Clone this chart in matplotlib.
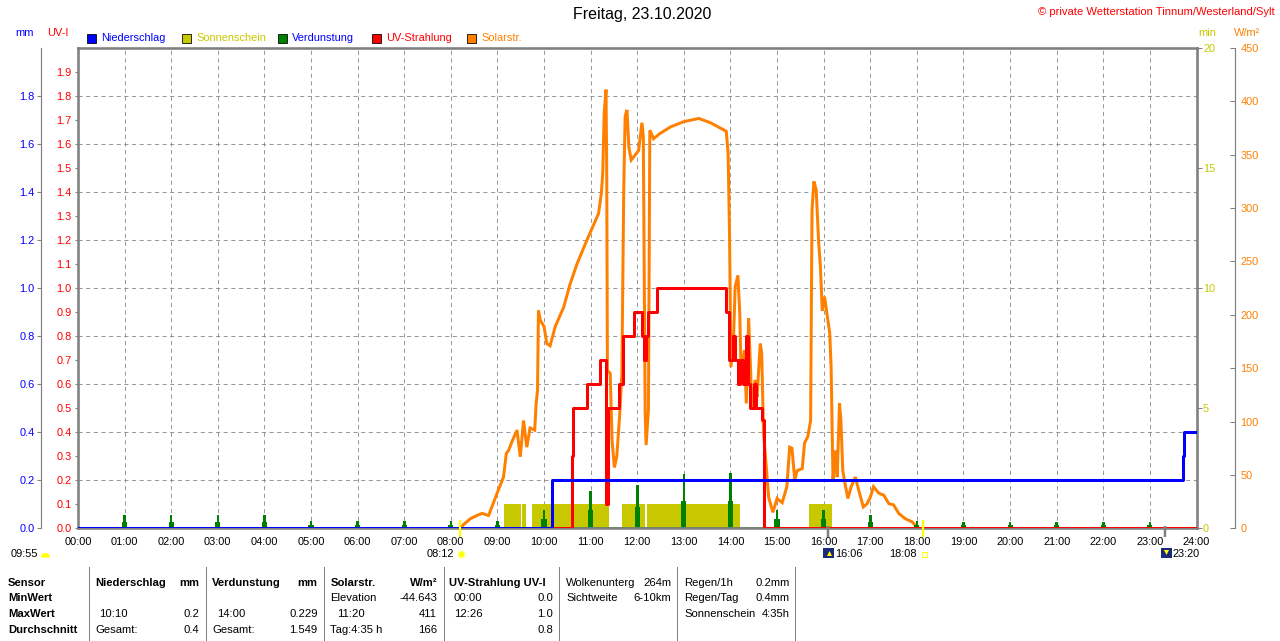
import matplotlib
matplotlib.use('Agg')
import matplotlib.pyplot as plt
from matplotlib import font_manager
from matplotlib.patches import Rectangle
import numpy as np

# ---------------- data ----------------
hours = list(range(25))
hour_labels = [f"{h:02d}:00" for h in hours]

# Niederschlag (cumulative, mm)
rain_t = [0.0, 10.17, 23.71, 23.73, 24.0]
rain_mm = [0.0, 0.2, 0.3, 0.4, 0.4]

# UV-Strahlung (UV-I), step values
uv_t = [0.0, 10.60, 10.63, 10.92, 11.19, 11.33, 11.37, 11.61, 11.69, 11.92, 12.10,
        12.14, 12.19, 12.24, 12.42, 13.91, 13.96, 14.05, 14.10, 14.16, 14.20, 14.26,
        14.33, 14.37, 14.43, 14.50, 14.55, 14.68, 14.72, 24.0]
uv_i = [0.0, 0.3, 0.5, 0.6, 0.7, 0.1, 0.5, 0.6, 0.8, 0.9, 0.8,
        0.7, 0.8, 0.9, 1.0, 0.9, 0.7, 0.8, 0.7, 0.6, 0.7, 0.6,
        0.8, 0.6, 0.5, 0.6, 0.5, 0.45, 0.0, 0.0]

# Solarstrahlung (W/m²)
solar_t = [8.22, 8.26, 8.42, 8.56, 8.67, 8.81, 8.88, 9.02, 9.13, 9.19, 9.24, 9.31, 9.42,
           9.49, 9.56, 9.63, 9.70, 9.80, 9.83, 9.86, 9.88, 9.92, 10.00, 10.06, 10.13,
           10.24, 10.42, 10.56, 10.71, 10.92, 11.06, 11.17, 11.23, 11.26, 11.29, 11.33,
           11.345, 11.36, 11.42, 11.46, 11.51, 11.56, 11.62, 11.67, 11.71, 11.74, 11.78,
           11.82, 11.87, 11.96, 12.03, 12.10, 12.13, 12.17, 12.19, 12.24, 12.27, 12.35,
           12.49, 12.71, 13.00, 13.32, 13.57, 13.78, 13.91, 13.95, 13.98, 14.01, 14.07,
           14.10, 14.16, 14.20, 14.23, 14.30, 14.34, 14.39, 14.43, 14.46, 14.53, 14.57,
           14.64, 14.67, 14.71, 14.77, 14.82, 14.91, 15.00, 15.11, 15.21, 15.27, 15.32,
           15.38, 15.43, 15.54, 15.59, 15.66, 15.72, 15.75, 15.79, 15.84, 15.89, 15.93,
           15.97, 16.02, 16.07, 16.13, 16.16, 16.20, 16.25, 16.29, 16.34, 16.37, 16.41,
           16.47, 16.52, 16.59, 16.68, 16.75, 16.85, 16.93, 17.00, 17.07, 17.18, 17.29,
           17.40, 17.50, 17.61, 17.75, 17.90, 18.00]
solar_w = [0, 3, 9, 12, 14, 12, 20, 36, 48, 70, 73, 81, 92,
           67, 101, 76, 94, 92, 117, 129, 204, 195, 189, 173, 171,
           189, 207, 229, 248, 270, 284, 295, 314, 333, 389, 411,
           333, 148, 145, 82, 57, 67, 104, 145, 317, 386, 392,
           357, 345, 350, 354, 380, 367, 108, 78, 111, 373, 365,
           370, 376, 381, 384, 380, 375, 372, 351, 276, 151, 183,
           226, 237, 201, 142, 167, 117, 197, 151, 112, 139, 123,
           173, 164, 89, 57, 29, 15, 28, 24, 39, 76, 75,
           45, 54, 56, 80, 86, 101, 298, 325, 317, 270, 245,
           204, 217, 201, 183, 151, 45, 73, 48, 117, 101, 54,
           39, 28, 39, 48, 36, 20, 23, 29, 39, 33, 31,
           23, 22, 14, 9, 6, 1]

# Sonnenschein (min)
sun_start = [9.15, 9.53, 9.75, 11.67, 12.21, 15.69]
sun_end = [9.51, 9.62, 11.40, 12.17, 14.21, 16.18]
sun_min = [1, 1, 1, 1, 1, 1]

# Verdunstung (mm per hour)
evap_t = list(range(1, 24))
evap_mm = [0.054, 0.054, 0.054, 0.054, 0.03, 0.03, 0.03, 0.03, 0.03, 0.075, 0.155,
           0.179, 0.228, 0.229, 0.078, 0.078, 0.054, 0.03, 0.026, 0.026, 0.026, 0.026, 0.026]

# Sun / moon events (hours)
sunrise, sunset = 8.2, 18.133
moonrise, moonset = 16.1, 23.333

legend_labels = ['Niederschlag', 'Sonnenschein', 'Verdunstung', 'UV-Strahlung', 'Solarstr.']

# ---------------- style ----------------
names = {f.name for f in font_manager.fontManager.ttflist}
if 'Liberation Sans Narrow' in names:
    FONT = 'Liberation Sans Narrow'
    K = 1.0
else:
    FONT = 'Liberation Sans'
    K = 0.84
plt.rcParams['font.family'] = [FONT, 'DejaVu Sans']
plt.rcParams['lines.scale_dashes'] = False

BLUE = '#0000ff'
RED = '#ff0000'
ORANGE = '#ff8000'
OLIVE = '#c8c800'
GREEN = '#008000'
GRAY = '#808080'
PX = 0.72  # points per pixel at dpi 100
TFS = 9.4 * K  # tick font size

W, H = 1280, 641
fig = plt.figure(figsize=(12.8, 6.41), dpi=100)
L, R, T, B = 78, 1196.5, 48, 528.3
rect = [L / W, 1 - B / H, (R - L) / W, (B - T) / H]

# background axes: grid + mm axis + x labels
ax_bg = fig.add_axes(rect, zorder=0)
for s in ['top', 'right', 'bottom']:
    ax_bg.spines[s].set_visible(False)
ax_bg.spines['left'].set_position(('outward', 37.3 * PX))
ax_bg.spines['left'].set_color(GRAY)
ax_bg.spines['left'].set_linewidth(1.2 * PX)
ax_bg.set_xlim(0, 24)
ax_bg.set_ylim(0, 2.0)
ax_bg.set_xticks(hours)
ax_bg.set_xticklabels(hour_labels)
ax_bg.tick_params(axis='x', length=0, pad=6.5, labelsize=TFS, labelcolor='black')
mm_ticks = np.round(np.arange(0, 1.81, 0.2), 1)
ax_bg.set_yticks(mm_ticks)
ax_bg.set_yticklabels([f"{v:.1f}" for v in mm_ticks])
ax_bg.tick_params(axis='y', direction='out', length=4 * PX, width=1 * PX, color=GRAY,
                  pad=2 * PX, labelsize=TFS, labelcolor=BLUE)
ax_bg.grid(True, color=GRAY, linestyle=(0, (3, 2.5)), linewidth=0.8 * PX)

# sunshine axis (min)
ax_sun = fig.add_axes(rect, sharex=ax_bg, zorder=1)
ax_sun.patch.set_visible(False)
for s in ax_sun.spines.values():
    s.set_visible(False)
ax_sun.set_ylim(0, 20)
ax_sun.yaxis.tick_right()
ax_sun.set_yticks([0, 5, 10, 15, 20])
ax_sun.set_yticklabels(['0', '5', '10', '15', '20'])
ax_sun.tick_params(axis='y', direction='out', length=5 * PX, width=1 * PX, color=GRAY,
                   pad=1.5 * PX, labelsize=TFS, labelcolor=OLIVE)
ax_sun.tick_params(axis='x', labelbottom=False, length=0)
ax_sun.bar(sun_start, sun_min, width=np.array(sun_end) - np.array(sun_start),
           align='edge', color=OLIVE, linewidth=0)

# solar axis (W/m²)
ax_w = fig.add_axes(rect, sharex=ax_bg, zorder=2)
ax_w.patch.set_visible(False)
for s in ['top', 'left', 'bottom']:
    ax_w.spines[s].set_visible(False)
ax_w.spines['right'].set_position(('outward', 38 * PX))
ax_w.spines['right'].set_color(GRAY)
ax_w.spines['right'].set_linewidth(1.2 * PX)
ax_w.set_ylim(0, 450)
ax_w.yaxis.tick_right()
w_ticks = list(range(0, 451, 50))
ax_w.set_yticks(w_ticks)
ax_w.set_yticklabels([str(v) for v in w_ticks])
ax_w.tick_params(axis='y', direction='in', length=5 * PX, width=1 * PX, color=GRAY,
                 pad=6 * PX, labelsize=TFS, labelcolor=ORANGE)
ax_w.tick_params(axis='x', labelbottom=False, length=0)
ax_w.plot(solar_t, solar_w, color=ORANGE, linewidth=3 * PX, solid_joinstyle='miter')

# main axes (UV-I / mm data, frame)
ax = fig.add_axes(rect, sharex=ax_bg, zorder=3)
ax.patch.set_visible(False)
for s in ax.spines.values():
    s.set_color(GRAY)
    s.set_linewidth(2.6 * PX)
ax.set_ylim(0, 2.0)
uv_ticks = np.round(np.arange(0, 1.91, 0.1), 1)
ax.set_yticks(uv_ticks)
ax.set_yticklabels([f"{v:.1f}" for v in uv_ticks])
ax.tick_params(axis='y', direction='out', length=3.5 * PX, width=1 * PX, color=GRAY,
               pad=3 * PX, labelsize=TFS, labelcolor=RED)
ax.tick_params(axis='x', labelbottom=False, length=0)

# Verdunstung spikes
ax.axhline(0.003, color=GREEN, linewidth=1.5 * PX, zorder=2)
ax.bar(evap_t, np.array(evap_mm) / 2, width=0.11, align='center', color=GREEN, linewidth=0, zorder=2)
ax.bar(evap_t, evap_mm, width=0.055, align='center', color=GREEN, linewidth=0, zorder=2)
# UV
ax.step(uv_t, uv_i, where='post', color=RED, linewidth=3 * PX, zorder=3)
# Niederschlag
ax.step(rain_t, rain_mm, where='post', color=BLUE, linewidth=3 * PX, zorder=4)

# sun/moon event marks under axis
trans = ax.get_xaxis_transform()
ax.vlines([sunrise, sunset], -9 / 480, 8 / 480, transform=trans, color='#ffff00',
          linewidth=2.2 * PX, clip_on=False, zorder=5)
ax.vlines([moonrise, moonset], -9 / 480, 2 / 480, transform=trans, color=GRAY,
          linewidth=2.5 * PX, clip_on=False, zorder=5)

# ---------------- overlay for texts ----------------
ov = fig.add_axes([0, 0, 1, 1], zorder=10)
ov.set_xlim(0, W)
ov.set_ylim(H, 0)
ov.axis('off')
ov.patch.set_visible(False)

ov.text(642, 15, 'Freitag, 23.10.2020', ha='center', va='center', fontsize=13.7 * K, color='black')
ov.text(1275, 12, '© private Wetterstation Tinnum/Westerland/Sylt', ha='right', va='center',
        fontsize=9.6 * K, color=RED)

ov.text(15, 33, 'mm', ha='left', va='center', fontsize=TFS, color=BLUE)
ov.text(47, 33, 'UV-I', ha='left', va='center', fontsize=TFS, color=RED)
ov.text(1198, 33, 'min', ha='left', va='center', fontsize=TFS, color=OLIVE)
ov.text(1234, 33, 'W/m²', ha='left', va='center', fontsize=TFS, color=ORANGE)

leg_x = [87, 182, 277.5, 372, 467]
leg_fill = [BLUE, OLIVE, GREEN, RED, ORANGE]
leg_text = [BLUE, OLIVE, BLUE, RED, ORANGE]
for x, lab, fc, tc in zip(leg_x, legend_labels, leg_fill, leg_text):
    ov.add_patch(Rectangle((x, 33.5), 9, 9, facecolor=fc, edgecolor='black', linewidth=0.8 * PX))
    ov.text(x + 14, 38, lab, ha='left', va='center', fontsize=TFS, color=tc)

# day length / sun / moon times under axis
ov.text(10.5, 554, '09:55', ha='left', va='center', fontsize=TFS)
ov.plot([44.5], [556.5], marker='o', markersize=9 * PX, fillstyle='top', color='#ffff00',
        markeredgewidth=0)
ov.text(454, 554, '08:12', ha='right', va='center', fontsize=TFS)
ov.plot([460.5], [553.5], marker='o', markersize=7 * PX, color='#ffff00',
        markeredgecolor='#ffffa0', markeredgewidth=1.5 * PX)
ov.add_patch(Rectangle((823, 548), 11, 10, facecolor='#1a2a7a', edgecolor='none'))
ov.plot([829], [553], marker='^', markersize=5 * PX, color='#ffff00', markeredgewidth=0)
ov.text(835, 554, '16:06', ha='left', va='center', fontsize=TFS)
ov.text(917, 554, '18:08', ha='right', va='center', fontsize=TFS)
ov.add_patch(Rectangle((922, 551.5), 5, 5, facecolor='none', edgecolor='#ffff00', linewidth=1 * PX))
ov.add_patch(Rectangle((1161, 548), 11, 10, facecolor='#1a2a7a', edgecolor='none'))
ov.plot([1166], [552], marker='v', markersize=5 * PX, color='#ffff00', markeredgewidth=0)
ov.text(1172.5, 554, '23:20', ha='left', va='center', fontsize=TFS)

# ---------------- table ----------------
FS = 9.6 * K
rows_y = [582.5, 598, 614, 630]
for xs in [88.5, 205.5, 324, 443.5, 558.5, 677, 795]:
    ov.plot([xs, xs], [567, 641], color=GRAY, linewidth=1 * PX)

table = [
    # (x, row, text, ha, bold)
    (8, 0, 'Sensor', 'left', True), (8, 1, 'MinWert', 'left', True),
    (8, 2, 'MaxWert', 'left', True), (8, 3, 'Durchschnitt', 'left', True),
    (95, 0, 'Niederschlag', 'left', True), (199, 0, 'mm', 'right', True),
    (99, 2, '10:10', 'left', False), (199, 2, '0.2', 'right', False),
    (95, 3, 'Gesamt:', 'left', False), (199, 3, '0.4', 'right', False),
    (212, 0, 'Verdunstung', 'left', True), (317, 0, 'mm', 'right', True),
    (217, 2, '14:00', 'left', False), (317.5, 2, '0.229', 'right', False),
    (212, 3, 'Gesamt:', 'left', False), (317.5, 3, '1.549', 'right', False),
    (330.5, 0, 'Solarstr.', 'left', True), (437, 0, 'W/m²', 'right', True),
    (330.5, 1, 'Elevation', 'left', False), (437, 1, '-44.643', 'right', False),
    (337, 2, '11:20', 'left', False), (437, 2, '411', 'right', False),
    (330.5, 3, 'Tag:4:35 h', 'left', False), (437, 3, '166', 'right', False),
    (449, 0, 'UV-Strahlung UV-I', 'left', True),
    (454, 1, '00:00', 'left', False), (553, 1, '0.0', 'right', False),
    (454, 2, '12:26', 'left', False), (553, 2, '1.0', 'right', False),
    (553, 3, '0.8', 'right', False),
    (566, 0, 'Wolkenunterg', 'left', False), (671, 0, '264m', 'right', False),
    (566, 1, 'Sichtweite', 'left', False), (671, 1, '6-10km', 'right', False),
    (684, 0, 'Regen/1h', 'left', False), (790, 0, '0.2mm', 'right', False),
    (684, 1, 'Regen/Tag', 'left', False), (790, 1, '0.4mm', 'right', False),
    (684, 2, 'Sonnenschein', 'left', False), (790, 2, '4:35h', 'right', False),
]
for x, r, txt, ha, bold in table:
    ov.text(x, rows_y[r], txt, ha=ha, va='center', fontsize=FS,
            fontweight='bold' if bold else 'normal', color='black')

fig.savefig('out.png', dpi=100)
